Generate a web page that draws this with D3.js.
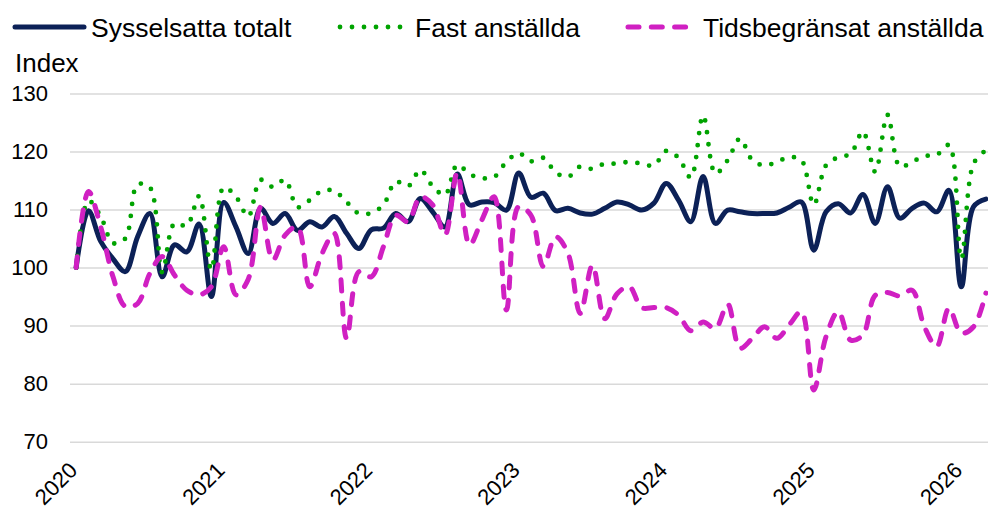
<!DOCTYPE html>
<html>
<head>
<meta charset="utf-8">
<script src="https://cdn.jsdelivr.net/npm/d3@7"></script>
<style>
  body { margin: 0; background: #fff; }
  svg text { font-family: "Liberation Sans", Arial, sans-serif; fill: #000; }
  .grid line { stroke: #d9d9d9; stroke-width: 1.5; }
  .grid .domain { display: none; }
</style>
</head>
<body>
<div id="chart"></div>
<script>
// svg params
var svgWidth = 988;
var svgHeight = 506;

// categories: one per month, Jan 2020 - Mar 2026
var months = d3.timeMonths(new Date(2020, 0, 1), new Date(2026, 3, 1));
var yearLabels = ["2020", "2021", "2022", "2023", "2024", "2025", "2026"];
var yTicks = [70, 80, 90, 100, 110, 120, 130];

// series values (index, Jan 2020 = 100)
var totalt = [100, 109.8, 104.5, 101.5, 99.3, 105.3, 109.3, 98.4, 103.9, 102.7, 107.5, 95,
  111.2, 107, 102.4, 110.2, 107.6, 109.3, 106.4, 107.9, 107, 108.8, 105.9, 103.3,
  106.5, 106.8, 109.3, 107.9, 111.9, 109.6, 107, 116.1, 110.8, 111.3, 111.2, 109.9,
  116.3, 112.1, 112.8, 109.8, 110.2, 109.4, 109.2, 110.2, 111.3, 110.8, 109.9, 111.1,
  114.5, 111.6, 107.9, 115.7, 107.6, 109.9, 109.6, 109.3, 109.3, 109.4, 110.4, 111.3,
  103, 109.6, 111, 109.4, 112.6, 107.6, 113.9, 108.5, 110.2, 111.1, 109.6, 113.3,
  96.7, 110.5, 111.8];
var fast = [100, 111.5, 108.8, 104.2, 105, 114.3, 113.8, 99.2, 107.6, 107.2, 112.3, 99.6,
  113.8, 112.2, 108.8, 115.1, 113.9, 115.1, 110.4, 111.6, 113.2, 113.2, 111.3, 109.3,
  109.4, 110.8, 114.8, 114, 116.8, 114, 112.5, 117.7, 116.1, 115.4, 115.6, 118.2,
  119.7, 118.3, 118.9, 116.4, 115.6, 117.4, 117, 117.9, 117.9, 118.2, 117.9, 117.6,
  120.1, 118.9, 115.5, 126.2, 116.2, 118.5, 122.2, 118.5, 117.6, 118.2, 119, 118.5,
  110.8, 117.6, 119, 119.6, 123.4, 116.5, 126.3, 117.4, 118.2, 119.2, 119.4, 121.1,
  101.5, 117.9, 120.2];
var tids = [100, 113.1, 107, 98.4, 93.3, 93.8, 99, 101.9, 98.7, 96.1, 95.3, 96.7,
  103.6, 95.3, 98, 110.4, 101.3, 105.6, 107, 96.7, 102.4, 105.9, 87.8, 99.3,
  98.4, 103.6, 109, 107.9, 112.2, 110.8, 105.6, 116.3, 103.9, 108.2, 112.2, 92.7,
  110.5, 109, 100.2, 105.3, 102.5, 92.1, 100.4, 91.2, 95.5, 96.7, 93.1, 93.1,
  93.1, 91.8, 89.1, 90.6, 89.5, 93.7, 86.1, 87.8, 89.8, 87.8, 90.1, 92.4,
  78.9, 88.1, 92.4, 87.5, 88.4, 95.2, 95.7, 95.1, 96.1, 89.8, 86.4, 93,
  88.7, 89.8, 95.6];

var seriesNames = ["Sysselsatta totalt", "Fast anställda", "Tidsbegränsat anställda"];

// margins
var margin = { top: 93.4, right: -4, bottom: 64.3, left: 70 };
var chartWidth = svgWidth - margin.left - margin.right;
var chartHeight = svgHeight - margin.top - margin.bottom;

var svg = d3.select("#chart").append("svg")
  .attr("width", svgWidth)
  .attr("height", svgHeight);

var chartGroup = svg.append("g")
  .attr("transform", `translate(${margin.left}, ${margin.top})`);

// scales
var xScale = d3.scalePoint()
  .domain(d3.range(months.length))
  .range([0, chartWidth])
  .padding(0.5);

var yScale = d3.scaleLinear()
  .domain([70, 130])
  .range([chartHeight, 0]);

// y axis with gridlines
chartGroup.append("g")
  .attr("class", "grid")
  .call(d3.axisLeft(yScale).tickValues(yTicks).tickSize(-chartWidth).tickPadding(22))
  .call(g => g.selectAll("text").style("font-size", "22px"));

// x axis: year labels at each January
var janIdx = months.map((d, i) => i).filter(i => months[i].getMonth() === 0);
var xAxisGroup = chartGroup.append("g")
  .attr("transform", `translate(0, ${chartHeight})`)
  .call(d3.axisBottom(xScale).tickValues(janIdx).tickSize(0)
    .tickFormat((d, i) => yearLabels[i]));
xAxisGroup.select(".domain").remove();
xAxisGroup.selectAll("text")
  .style("font-size", "22px")
  .attr("text-anchor", "end")
  .attr("dy", null)
  .attr("y", null)
  .attr("transform", "translate(2, 30) rotate(-45)");

// lines
var line = d3.line()
  .x((d, i) => xScale(i))
  .y(d => yScale(d))
  .curve(d3.curveCatmullRom);

var styles = [
  { color: "#0c2157", width: 5, dash: null, cap: "round" },
  { color: "#00a300", width: 4.8, dash: "0 12", cap: "round" },
  { color: "#d020c2", width: 5, dash: "11 12.3", cap: "round" }
];

[totalt, fast, tids].forEach(function(values, k) {
  chartGroup.append("path")
    .datum(values)
    .attr("fill", "none")
    .attr("stroke", styles[k].color)
    .attr("stroke-width", styles[k].width)
    .attr("stroke-linecap", styles[k].cap)
    .attr("stroke-linejoin", "round")
    .attr("stroke-dasharray", styles[k].dash)
    .attr("d", line);
});

// y title
svg.append("text")
  .attr("x", 15)
  .attr("y", 72)
  .style("font-size", "26px")
  .text("Index");

// legend
var legendPos = [
  { x1: 15, x2: 84, tx: 91 },
  { x1: 340, x2: 402, tx: 415 },
  { x1: 628, x2: 689, tx: 703 }
];
seriesNames.forEach(function(name, k) {
  var p = legendPos[k];
  svg.append("line")
    .attr("x1", p.x1).attr("x2", p.x2)
    .attr("y1", 27).attr("y2", 27)
    .attr("stroke", styles[k].color)
    .attr("stroke-width", styles[k].width)
    .attr("stroke-linecap", styles[k].cap)
    .attr("stroke-dasharray", styles[k].dash);
  svg.append("text")
    .attr("x", p.tx)
    .attr("y", 36.5)
    .style("font-size", "26.5px")
    .text(name);
});
</script>
</body>
</html>
